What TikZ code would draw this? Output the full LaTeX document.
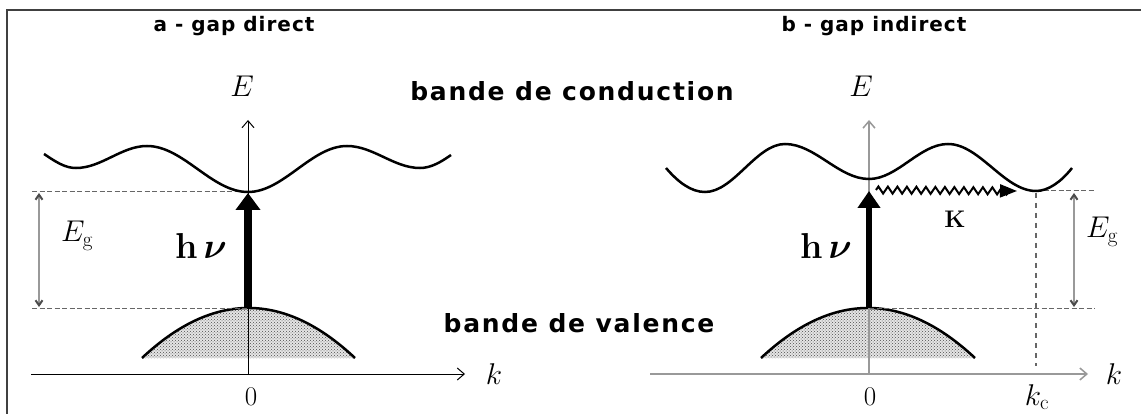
\RequirePackage{fix-cm}
\documentclass[tikz,border=0pt]{standalone}
\usepackage{amsmath}
\usepackage{bm}
\usepackage{fontspec}
\newfontfamily\bandfont[LetterSpace=7]{DejaVu Sans}
\newfontfamily\titlefont[LetterSpace=5]{DejaVu Sans}
\usetikzlibrary{arrows.meta,patterns,decorations.pathmorphing}
\tikzset{
  lbl/.style={inner sep=0pt, anchor=base},
  mlbl/.style={lbl, font=\fontsize{30}{34}\selectfont},
  zlbl/.style={lbl, font=\fontsize{27}{31}\selectfont},
  titlestyle/.style={lbl, font=\titlefont\bfseries\fontsize{20}{24}\selectfont},
  bandlabel/.style={lbl, font=\bandfont\bfseries\fontsize{25}{29}\selectfont},
  hnu/.style={lbl, font=\bfseries\fontsize{36}{40}\selectfont},
  bandline/.style={line width=2.5pt, black},
  axisleft/.style={line width=1pt, black, -{Straight Barb[length=7pt,width=12pt]}},
  axisright/.style={line width=1.5pt, black!40, -{Straight Barb[length=7pt,width=12pt]}},
  hdash/.style={line width=1pt, black!60, dash pattern=on 5pt off 2.5pt},
  vdash/.style={line width=1.5pt, black!60, dash pattern=on 5pt off 5pt},
  egarrow/.style={line width=2pt, black!40, {Straight Barb[length=5pt,width=7pt,black!70]}-{Straight Barb[length=5pt,width=7pt,black!70]}},
  fill valence/.style={fill=black!10, postaction={pattern=crosshatch dots, pattern color=black!70}},
}
\begin{document}
\begin{tikzpicture}[x=1pt,y=-1pt]
\fill[white] (0,0) rectangle (1141,414);
\useasboundingbox (0,0) rectangle (1141,414);

% frame
\draw[line width=2pt, black!75] (7,416) -- (7,10) -- (1143,10);

% titles
\node[titlestyle] (ta) at (234,32) {a - gap direct};
\node[titlestyle] (tb) at (874,32) {b - gap indirect};
\node[bandlabel] (cb) at (572,101) {bande de conduction};
\node[bandlabel] (vb) at (579,332) {bande de valence};

% ================= left: direct gap =================
\coordinate (L0) at (248,374);
\coordinate (Ltop) at (248,120);
\coordinate (Lkl) at (31,374);
\coordinate (Lkr) at (465,374);
\coordinate (Lc) at (248,192);
\coordinate (Lv) at (248,308);

% valence band
\fill[fill valence] (142,358) .. controls (213,291.3) and (284,291.3) .. (355,358) -- cycle;
\draw[bandline] (142,358) .. controls (213,291.3) and (284,291.3) .. (355,358);

% dashed levels
\draw[hdash] (32,192) -- (Lc);
\draw[hdash] (32,308) -- (Lv);

% axes
\draw[axisleft] (L0) -- (Ltop);
\draw[axisleft] (Lkl) -- (Lkr);

% conduction band
\draw[bandline] (44,154) .. controls (56,162) and (65,168) .. (76,168)
  .. controls (101.6,168) and (121.4,146) .. (147,146)
  .. controls (183.4,146) and (211.6,192) .. (248,192)
  .. controls (283.6,192) and (311.4,146) .. (347,146)
  .. controls (373.3,146) and (393.7,168) .. (420,168)
  .. controls (431,168) and (441,162) .. (451,155);

% photon arrow
\draw[line width=8pt, -{Triangle[length=17pt,width=24pt]}] (Lv) -- (248,193);

% Eg
\coordinate (Lega) at (39,193);
\coordinate (Legb) at (39,307);
\draw[egarrow] (Lega) -- (Legb);
\node[mlbl] (LEg) at (77,242) {$E_{\mathrm{g}}$};

% labels
\node[mlbl] (LE) at (242,97) {$E$};
\node[mlbl] (Lk) at (494,384) {$k$};
\node[zlbl] (Lzero) at (251,405) {0};
\node[hnu] (Lhnu) at (201,259) {h\kern6pt$\bm{\nu}$};

% ================= right: indirect gap =================
\coordinate (R0) at (869,374);
\coordinate (Rtop) at (869,120);
\coordinate (Rkl) at (650,374);
\coordinate (Rkr) at (1088,374);
\coordinate (Rv) at (869,308);
\coordinate (Rmin) at (1036,191);

% valence band
\fill[fill valence] (761,358) .. controls (832.3,291.3) and (903.7,291.3) .. (975,358) -- cycle;
\draw[bandline] (761,358) .. controls (832.3,291.3) and (903.7,291.3) .. (975,358);

% dashed
\draw[hdash] (Rmin) -- (1095,191);
\draw[hdash] (Rv) -- (1095,308);
\draw[vdash] (1036,193) -- (1036,366);

% axes
\draw[axisright] (R0) -- (Rtop);
\draw[axisright] (Rkl) -- (Rkr);

% conduction band
\draw[bandline] (666,168) .. controls (678,182) and (691,192) .. (705,192)
  .. controls (733.8,192) and (756.2,144) .. (785,144)
  .. controls (815.2,144) and (838.8,179) .. (869,179)
  .. controls (897.4,179) and (919.6,144) .. (948,144)
  .. controls (979.7,144) and (1004.3,191) .. (Rmin)
  .. controls (1048,191) and (1061,182) .. (1072,168);

% photon arrow
\draw[line width=6pt, -{Triangle[length=17pt,width=22pt]}] (Rv) -- (869,191);

% phonon arrow
\coordinate (Ka) at (876,190);
\coordinate (Kb) at (1017,191);
\draw[line width=2pt, decorate, decoration={zigzag, amplitude=3.5pt, segment length=9.5pt, post=lineto, post length=4pt}, -{Triangle[length=17pt,width=13pt]}] (Ka) -- (Kb);
\node[lbl, font=\bfseries\fontsize{24}{28}\selectfont] (K) at (955,228) {K};

% Eg
\coordinate (Rega) at (1074,193);
\coordinate (Regb) at (1074,307);
\draw[egarrow] (Rega) -- (Regb);
\node[mlbl] (REg) at (1102,238) {$E_{\mathrm{g}}$};

% labels
\node[mlbl] (RE) at (861,97) {$E$};
\node[mlbl] (Rk) at (1114,384) {$k$};
\node[zlbl] (Rzero) at (870,405) {0};
\node[mlbl] (Rkc) at (1037,405) {$k_{\mathrm{c}}$};
\node[hnu] (Rhnu) at (826,259) {h\kern6pt$\bm{\nu}$};
\end{tikzpicture}
\end{document}
